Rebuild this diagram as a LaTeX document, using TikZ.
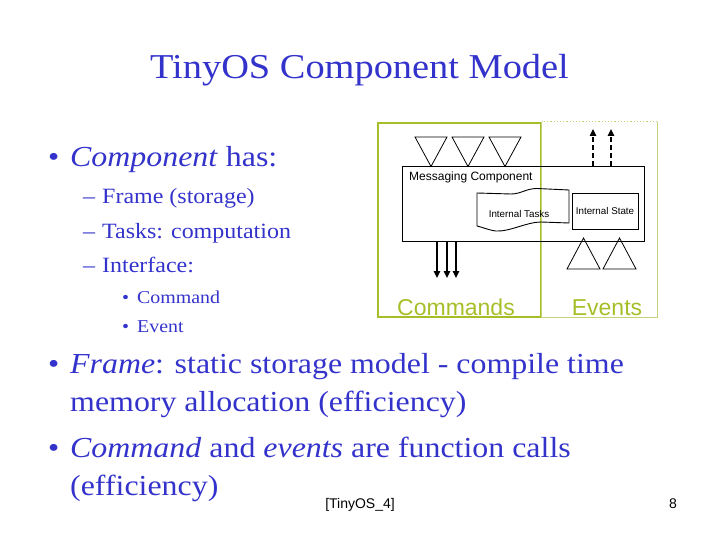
\documentclass[tikz,border=0pt]{standalone}
\usepackage{fontspec}
\setmainfont[FakeStretch=1.1]{Liberation Serif}
\setsansfont{Liberation Sans}
\usetikzlibrary{arrows.meta,positioning,calc}
\definecolor{SlideBlue}{RGB}{51,51,204}
\definecolor{PanelGreen}{RGB}{168,190,40}
\definecolor{PanelLight}{RGB}{196,210,120}
\tikzset{
  titletext/.style={font=\fontsize{34.9}{40}\selectfont,text=SlideBlue,
    inner sep=0pt,anchor=base},
  levelone/.style={anchor=base west,inner sep=0pt,text=SlideBlue,
    font=\fontsize{29}{34}\selectfont},
  leveltwo/.style={anchor=base west,inner sep=0pt,text=SlideBlue,
    font=\fontsize{21.8}{26}\selectfont},
  levelthree/.style={anchor=base west,inner sep=0pt,text=SlideBlue,
    font=\fontsize{18.1}{22}\selectfont},
  panel/.style={draw=PanelGreen,line width=1.5pt,inner sep=0pt},
  panellabel/.style={font=\sffamily\fontsize{23}{27}\selectfont,
    text=PanelGreen,anchor=base,inner sep=0pt},
  compbox/.style={draw=black,line width=0.9pt,inner sep=0pt},
  smalllabel/.style={font=\sffamily\fontsize{9.8}{12}\selectfont,
    inner sep=0pt,anchor=base},
  porttri/.style={draw=black,line width=0.8pt},
  cmdarrow/.style={-{Triangle[length=2.4mm,width=2.2mm]},line width=2.2pt},
  evtarrow/.style={-{Triangle[length=2.4mm,width=2.2mm]},dashed},
  footer/.style={font=\sffamily\fontsize{14}{16}\selectfont,
    inner sep=0pt,anchor=base},
}
\newcommand{\bul}[1]{\makebox[#1][l]{\textbullet}}
\newcommand{\dsh}[1]{\makebox[#1][l]{--}}

\begin{document}
\begin{tikzpicture}[x=1pt,y=-1pt]
  \useasboundingbox (0,0) rectangle (720,540);

  \node[titletext] (title) at (359.5,79) {TinyOS Component Model};

  % left column list
  \node[levelone] (comp) at (48,167) {\bul{22pt}\textit{Component} has:};
  \node[leveltwo] (frame) at (83,204) {\dsh{19pt}Frame (storage)};
  \node[leveltwo] (tasks) at (83,238) {\dsh{19pt}Tasks: computation};
  \node[leveltwo] (iface) at (83,272) {\dsh{19pt}Interface:};
  \node[levelthree] (cmd) at (122,303) {\bul{15pt}Command};
  \node[levelthree] (evt) at (122,332) {\bul{15pt}Event};

  % the two panels
  \node[panel,minimum width=163pt,minimum height=194pt] (cmdpanel)
    at (459.5,220) {};
  \node[inner sep=0pt,minimum width=115pt,minimum height=195pt] (evtpanel)
    at (599.5,219.5) {};
  \draw[PanelLight,line width=1.2pt] (evtpanel.north west)
    -- (evtpanel.south west) -- (evtpanel.south east) -- (evtpanel.north east);
  \draw[PanelLight,line width=1.2pt,dotted] (evtpanel.north east)
    -- (evtpanel.north west);
  \node[panellabel] (cmdlabel) at (456,315) {Commands};
  \node[panellabel] (evtlabel) at (607,315) {Events};

  % messaging component
  \node[compbox,minimum width=242pt,minimum height=75pt] (msg)
    at (523,203.5) {};
  \node[smalllabel,anchor=base west,font=\sffamily\fontsize{12}{14}\selectfont]
    (msglabel) at (409,181) {Messaging Component};
  \node[compbox,minimum width=66pt,minimum height=36pt] (state)
    at (605,211) {};
  \node[smalllabel] (statelabel) at (605,214.5) {Internal State};
  \draw[compbox] (477,193) -- (511,194)
    .. controls (521,194) and (526,188.5) .. (537,188.5) -- (569,190)
    -- (569,223) -- (541,222)
    .. controls (527,222) and (509,232) .. (496,231)
    .. controls (488,230) and (482,227) .. (477,226) -- cycle;
  \node[smalllabel] (tasklabel) at (519,217.5) {Internal Tasks};

  % ports
  \foreach \cx in {431,468,505}
    \draw[porttri] (\cx-16,137) -- (\cx+16,137) -- (\cx,166.5) -- cycle;
  \foreach \cx in {583.5,619.5}
    \draw[porttri] (\cx-16.5,269) -- (\cx+16.5,269) -- (\cx,238) -- cycle;

  % command calls out, events signalled up
  \coordinate (c1) at (437,278);
  \coordinate (c2) at (447,278);
  \coordinate (c3) at (456,278);
  \foreach \c in {c1,c2,c3}
    \draw[cmdarrow] (msg.south -| \c) -- (\c);
  \coordinate (e1) at (593,129);
  \coordinate (e2) at (611,129);
  \draw[evtarrow,line width=1.1pt,dash pattern=on 5pt off 3pt]
    (msg.north -| e1) -- (e1);
  \draw[evtarrow,line width=2.4pt,dash pattern=on 5pt off 3pt]
    (msg.north -| e2) -- (e2);

  % bottom list
  \node[levelone] (fnote) at (48,373)
    {\bul{22pt}\textit{Frame}: static storage model - compile time};
  \node[levelone] (fnote2) at (70,411) {memory allocation (efficiency)};
  \node[levelone] (cnote) at (48,457)
    {\bul{22pt}\textit{Command} and \textit{events} are function calls};
  \node[levelone] (cnote2) at (70,495) {(efficiency)};

  \node[footer] (ref) at (360,508) {[TinyOS\_4]};
  \node[footer] (page) at (673,508) {8};
\end{tikzpicture}
\end{document}
